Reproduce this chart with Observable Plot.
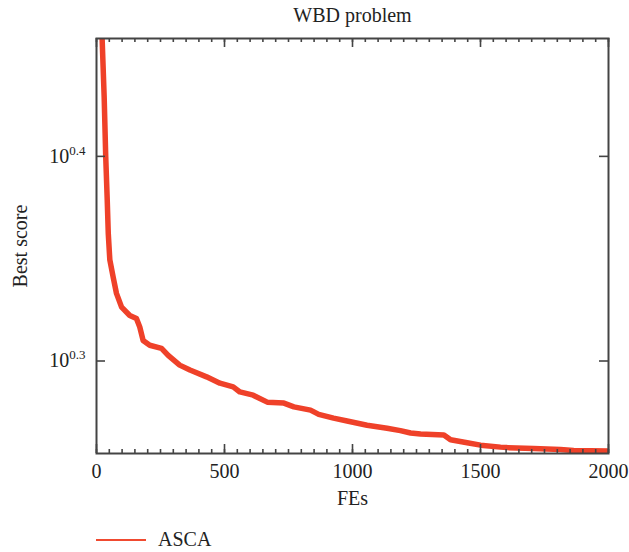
<!DOCTYPE html>
<html>
<head>
<meta charset="utf-8">
<script src="https://cdn.jsdelivr.net/npm/d3@7"></script>
<script src="https://cdn.jsdelivr.net/npm/@observablehq/plot@0.6"></script>
<style>
  body { margin: 0; background: #fff; }
  #wrap { position: relative; width: 629px; height: 552px; font-family: "Liberation Serif", "DejaVu Serif", serif; }
  #legend { position: absolute; left: 96px; top: 528px; display: flex; align-items: center; font-size: 20px; color: #222; }
  #legend .sw { width: 50px; height: 2px; background: #f04a30; margin-right: 12px; }
</style>
</head>
<body>
<div id="wrap"></div>
<script>
const title = "WBD problem";
const xLabel = "FEs";
const yLabel = "Best score";
const seriesName = "ASCA";
const FEs = [15, 22, 30, 36, 42, 46, 52, 65, 78, 98, 130, 156, 169, 182, 208, 254, 280, 325, 365, 430, 482, 534, 560, 612, 667, 732, 771, 836, 868, 926, 979, 1057, 1135, 1187, 1227, 1266, 1357, 1383, 1448, 1500, 1578, 1604, 1707, 1812, 1864, 2000];
const bestScore = [3.0, 2.867, 2.684, 2.512, 2.390, 2.303, 2.236, 2.193, 2.153, 2.120, 2.100, 2.093, 2.073, 2.042, 2.031, 2.024, 2.008, 1.986, 1.975, 1.960, 1.946, 1.938, 1.927, 1.920, 1.905, 1.903, 1.895, 1.888, 1.879, 1.871, 1.865, 1.856, 1.850, 1.845, 1.840, 1.838, 1.836, 1.826, 1.820, 1.815, 1.811, 1.810, 1.808, 1.806, 1.804, 1.803];
const xMajorTicks = [0, 500, 1000, 1500, 2000];
const xMinorTicks = d3.range(0, 2001, 50);
const yTickExponents = [0.3, 0.4];
const yDomainExponents = [0.2548, 0.4576];

const data = FEs.map((x, i) => ({x, y: bestScore[i]}));
const yTicks = yTickExponents.map(e => Math.pow(10, e));

const W = 629, H = 520;
const mt = 38, mb = 67, ml = 96, mr = 21;
const fw = W - ml - mr, fh = H - mt - mb;
const axisColor = "#444";
const FS = 20;

const plot = Plot.plot({
  width: W, height: H,
  marginTop: mt, marginBottom: mb, marginLeft: ml, marginRight: mr,
  style: {fontFamily: "Liberation Serif, DejaVu Serif, serif", fontSize: FS + "px", color: "#222", background: "#fff"},
  x: {domain: [0, 2000]},
  y: {type: "log", domain: yDomainExponents.map(e => Math.pow(10, e))},
  marks: [
    Plot.line(data, {x: "x", y: "y", stroke: "#ef4129", strokeWidth: 5.5, clip: true}),
    Plot.frame({stroke: axisColor, strokeWidth: 2}),
    Plot.tickX(xMinorTicks, {x: d => d, stroke: axisColor, strokeWidth: 1.6, insetTop: fh - 4}),
    Plot.tickX(xMajorTicks, {x: d => d, stroke: axisColor, strokeWidth: 1.6, insetTop: fh - 9}),
    Plot.tickX(xMinorTicks, {x: d => d, stroke: axisColor, strokeWidth: 1.6, insetBottom: fh - 4}),
    Plot.tickX(xMajorTicks, {x: d => d, stroke: axisColor, strokeWidth: 1.6, insetBottom: fh - 9}),
    Plot.tickY(yTicks, {y: d => d, stroke: axisColor, strokeWidth: 1.6, insetRight: fw - 9}),
    Plot.tickY(yTicks, {y: d => d, stroke: axisColor, strokeWidth: 1.6, insetLeft: fw - 9}),
    Plot.axisX(xMajorTicks, {tickSize: 0, tickPadding: 10, label: null, fontSize: FS, tickFormat: d3.format("d")}),
    Plot.axisY(yTicks, {tickSize: 0, tickPadding: 11, label: null, fontSize: FS,
      tickFormat: d => "10^" + (Math.round(Math.log10(d) * 10) / 10).toFixed(1)}),
    Plot.text([xLabel], {frameAnchor: "bottom", lineAnchor: "middle", dy: 45, fontSize: FS, fill: "#222"}),
    Plot.text([yLabel], {frameAnchor: "left", textAnchor: "middle", lineAnchor: "middle", dx: -76, rotate: -90, fontSize: FS, fill: "#222"}),
    Plot.text([title], {frameAnchor: "top", lineAnchor: "middle", dy: -23, fontSize: FS, fill: "#222"})
  ]
});

d3.select(plot).selectAll('g[aria-label="y-axis tick label"] text').each(function() {
  const t = this.textContent;
  if (t.includes("^")) {
    const [base, exp] = t.split("^");
    this.textContent = base;
    const ts = document.createElementNS("http://www.w3.org/2000/svg", "tspan");
    ts.setAttribute("dy", "-8");
    ts.setAttribute("font-size", "13px");
    ts.textContent = exp;
    this.appendChild(ts);
  }
});

const wrap = document.getElementById("wrap");
wrap.appendChild(plot);
const legend = document.createElement("div");
legend.id = "legend";
legend.innerHTML = '<span class="sw"></span><span></span>';
legend.lastChild.textContent = seriesName;
wrap.appendChild(legend);
</script>
</body>
</html>
